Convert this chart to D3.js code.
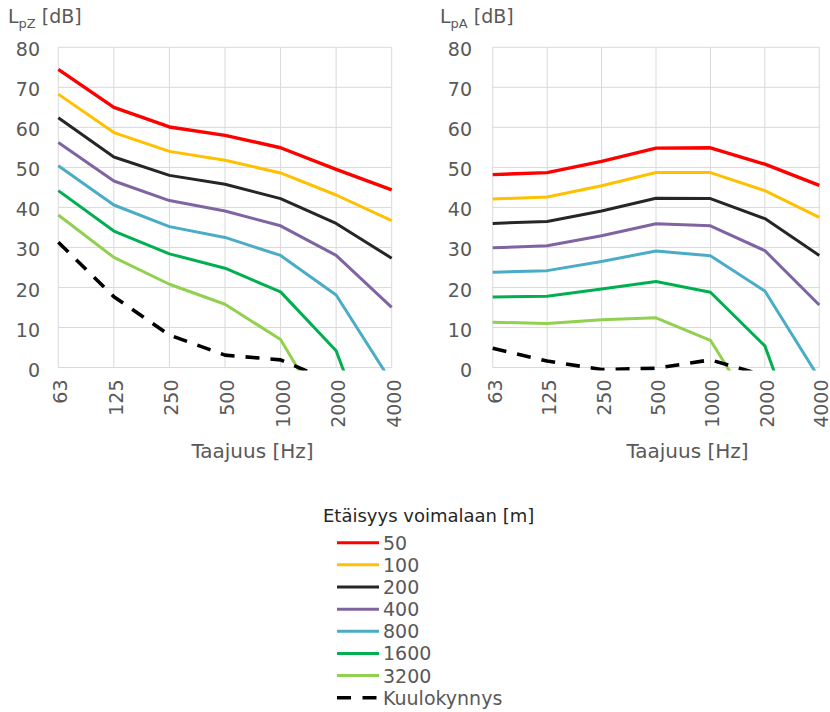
<!DOCTYPE html>
<html>
<head>
<meta charset="utf-8">
<script src="https://cdn.jsdelivr.net/npm/d3@7/dist/d3.min.js"></script>
<style>
  html, body { margin: 0; padding: 0; background: #fff; }
  svg { display: block; font-family: "DejaVu Sans", Verdana, sans-serif; }
</style>
</head>
<body>
<svg id="chart" width="830" height="712"></svg>
<script>
// ---- data ----
const frequencies = ["63", "125", "250", "500", "1000", "2000", "4000"];
const yTicks = [0, 10, 20, 30, 40, 50, 60, 70, 80];
const seriesNames = ["50", "100", "200", "400", "800", "1600", "3200", "Kuulokynnys"];
const seriesColors = ["#FF0000", "#FFC000", "#262626", "#8064A2", "#4BACC6", "#00B050", "#92D050", "#000000"];

// Left panel: LpZ [dB]
const lpz50   = [74.5, 65.0, 60.1, 58.0, 54.9, 49.5, 44.4];
const lpz100  = [68.3, 58.7, 54.0, 51.8, 48.6, 43.1, 36.7];
const lpz200  = [62.4, 52.6, 48.0, 45.8, 42.2, 36.0, 27.3];
const lpz400  = [56.2, 46.6, 41.7, 39.1, 35.4, 28.0, 15.0];
const lpz800  = [50.4, 40.6, 35.2, 32.5, 28.0, 18.1, -3.7];
const lpz1600 = [44.2, 34.1, 28.4, 24.8, 18.9, 4.2, -33.0];
const lpz3200 = [38.1, 27.5, 20.8, 15.8, 7.0, -16.3, -60.0];
const lpzThreshold = [31.3, 17.7, 8.1, 3.1, 1.9, -4.0, -6.0];

// Right panel: LpA [dB]
const lpa50   = [48.2, 48.7, 51.5, 54.8, 54.9, 50.8, 45.5];
const lpa100  = [42.1, 42.6, 45.4, 48.7, 48.7, 44.2, 37.5];
const lpa200  = [36.0, 36.5, 39.1, 42.3, 42.2, 37.2, 28.0];
const lpa400  = [29.9, 30.4, 32.9, 35.9, 35.4, 29.2, 15.6];
const lpa800  = [23.8, 24.2, 26.5, 29.1, 27.9, 19.1, -2.7];
const lpa1600 = [17.6, 17.8, 19.6, 21.5, 18.8, 5.4, -32.0];
const lpa3200 = [11.3, 11.0, 11.9, 12.4, 6.8, -15.0, -59.0];
const lpaThreshold = [4.8, 1.6, -0.5, -0.2, 1.9, -2.0, -5.0];

const legendTitle = "Etäisyys voimalaan [m]";
const xTitle = "Taajuus [Hz]";

// ---- drawing ----
const svg = d3.select("#chart");
const grey = "#595959";
const gridColor = "#D9D9D9";
const FONT = "DejaVu Sans, Verdana, sans-serif";
const DASH = "14,11";

function panel(opts) {
  const { x0, x1, y0, y1, series, sub, titleX, idx, yLabelX, yTitleX } = opts;
  const x = d3.scalePoint().domain(frequencies).range([x0, x1]).padding(0);
  const y = d3.scaleLinear().domain([0, 80]).range([y0, y1]);
  const g = svg.append("g");

  // gridlines
  g.append("g").selectAll("line").data(yTicks).join("line")
    .attr("x1", x0).attr("x2", x1)
    .attr("y1", d => y(d)).attr("y2", d => y(d))
    .attr("stroke", gridColor).attr("stroke-width", 1);
  g.append("g").selectAll("line").data(frequencies).join("line")
    .attr("x1", d => x(d)).attr("x2", d => x(d))
    .attr("y1", y(80)).attr("y2", y(0))
    .attr("stroke", gridColor).attr("stroke-width", 1);

  // y axis labels
  const yAxis = d3.axisLeft(y).tickValues(yTicks).tickSize(0).tickPadding(0);
  const ya = g.append("g").attr("transform", `translate(${yLabelX},0)`).call(yAxis);
  ya.select(".domain").remove();
  ya.selectAll("text").attr("fill", grey).attr("font-size", 19)
    .attr("font-family", FONT).attr("dy", "0.45em");

  // x axis labels (rotated)
  const xAxis = d3.axisBottom(x).tickSize(0).tickPadding(0);
  const xa = g.append("g").attr("transform", `translate(0,${y0})`).call(xAxis);
  xa.select(".domain").remove();
  xa.selectAll("text").attr("fill", grey).attr("font-size", 19)
    .attr("font-family", FONT)
    .attr("text-anchor", "end")
    .attr("transform", "translate(0,12) rotate(-90)")
    .attr("x", 0).attr("y", 0).attr("dy", "0.45em");

  // clip
  const clipId = "clip" + idx;
  svg.append("clipPath").attr("id", clipId).append("rect")
    .attr("x", x0 - 3).attr("y", y1 - 3).attr("width", x1 - x0 + 6).attr("height", y0 - y1 + 6);

  const line = d3.line().x((d, i) => x(frequencies[i])).y(d => y(d));
  const lg = g.append("g").attr("clip-path", `url(#${clipId})`);
  series.forEach((s, i) => {
    const dashed = i === series.length - 1;
    lg.append("path").datum(s)
      .attr("d", line)
      .attr("fill", "none")
      .attr("stroke", seriesColors[i])
      .attr("stroke-width", dashed ? 3.6 : (i === 0 ? 3.4 : 3))
      .attr("stroke-linejoin", "round")
      .attr("stroke-dasharray", dashed ? DASH : null);
  });

  // y title
  const t = g.append("text").attr("x", yTitleX).attr("y", 23)
    .attr("fill", grey).attr("font-size", 19);
  t.append("tspan").text("L");
  t.append("tspan").attr("font-size", 13).attr("dy", 5).text(sub);
  t.append("tspan").attr("dy", -5).text(" [dB]");

  // x title
  g.append("text").attr("x", titleX).attr("y", 458)
    .attr("text-anchor", "middle").attr("fill", grey).attr("font-size", 20)
    .text(xTitle);
}

panel({ x0: 58.3, x1: 391.7, y0: 367.5, y1: 47.3, idx: 0, sub: "pZ", yTitleX: 8, yLabelX: 40,
  titleX: 252.5, series: [lpz50, lpz100, lpz200, lpz400, lpz800, lpz1600, lpz3200, lpzThreshold] });
panel({ x0: 492.7, x1: 819.3, y0: 367.5, y1: 47.3, idx: 1, sub: "pA", yTitleX: 440, yLabelX: 472,
  titleX: 687.5, series: [lpa50, lpa100, lpa200, lpa400, lpa800, lpa1600, lpa3200, lpaThreshold] });

// legend
const lg = svg.append("g");
lg.append("text").attr("x", 323).attr("y", 522).attr("fill", "#262626").attr("font-size", 18)
  .text(legendTitle);
const rowY = d3.scaleLinear().domain([0, seriesNames.length - 1]).range([542.7, 697.7]);
seriesNames.forEach((n, i) => {
  const dashed = i === seriesNames.length - 1;
  lg.append("line").attr("x1", 337).attr("x2", 379).attr("y1", rowY(i)).attr("y2", rowY(i))
    .attr("stroke", seriesColors[i]).attr("stroke-width", dashed ? 3.6 : 3)
    .attr("stroke-dasharray", dashed ? "14,11.5" : null);
  lg.append("text").attr("x", 383).attr("y", rowY(i)).attr("dy", "0.37em")
    .attr("fill", grey).attr("font-size", 19).text(n);
});
</script>
</body>
</html>
